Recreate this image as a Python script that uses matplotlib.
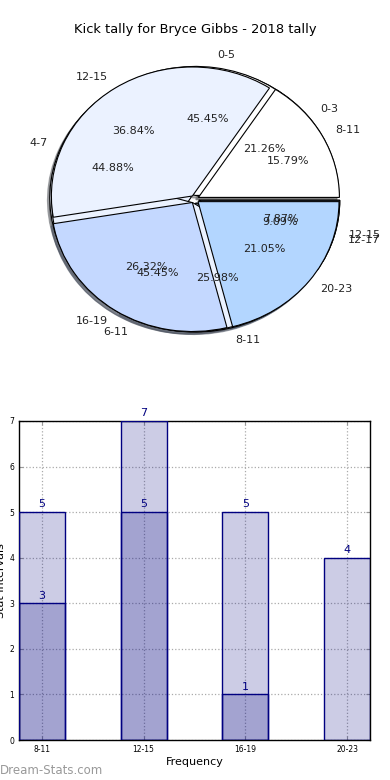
import matplotlib
matplotlib.use("Agg")
import matplotlib.pyplot as plt
import numpy as np

title = "Kick tally for Bryce Gibbs - 2018 tally"

# Pie data (three overlaid pies)
pie1_labels = ["0-3", "4-7", "8-11", "12-15"]
pie1_values = [27, 57, 33, 10]
pie3_labels = ["0-5", "6-11", "12-17"]
pie3_values = [5, 5, 1]
pie2_labels = ["8-11", "12-15", "16-19", "20-23"]
pie2_values = [3, 7, 5, 4]

pie_colors = ["#FFFFFF", "#EBF2FF", "#C4D8FF", "#B3D6FF"]

# Bar data
bar_categories = ["8-11", "12-15", "16-19", "20-23"]
bar_series_a = [5, 7, 5, 4]
bar_series_b = [3, 5, 1]

fig = plt.figure(figsize=(3.9, 7.8), dpi=100)
fig.text(0.5, 1 - 30 / 780, title, ha="center", va="center", fontsize=9.4)

# ---- Pie ----
axp = fig.add_axes([0.0473, 0.5378, 0.9038, 0.4135])

wp = dict(edgecolor="black", linewidth=0.8)
tp = dict(fontsize=8, color="#222222")
all_pcts = []
for labels, values in [(pie1_labels, pie1_values), (pie3_labels, pie3_values), (pie2_labels, pie2_values)]:
    _, _, pcts = axp.pie(values, labels=labels, colors=pie_colors[:len(values)], autopct="%1.2f%%",
                         explode=[0.03] * len(values),
                         shadow={"ox": -0.012, "oy": -0.014, "shade": 0.6}, startangle=0,
                         wedgeprops=wp, textprops=tp, frame=True)
    all_pcts.append(pcts)
# nudge two overlapping percentage texts of the top pie, as in the reference
p2 = all_pcts[2]
x0, y0 = p2[0].get_position()
p2[0].set_position((x0 + 0.11, y0))
x1, y1 = p2[1].get_position()
p2[1].set_position((x1 - 0.09, y1))

axp.set_xlim(-1.25, 1.25)
axp.set_ylim(-1.25, 1.25)
axp.set_aspect("auto")
axp.axis("off")

# ---- Bars ----
axb = fig.add_axes([19 / 390, 40 / 780, 351 / 390, 319 / 780])
x = np.arange(len(bar_categories))
w = 0.45
axb.bar(x, bar_series_a, width=w, color="navy", alpha=0.2, zorder=2)
axb.bar(x, bar_series_a, width=w, facecolor="none", edgecolor="navy", linewidth=1, zorder=3)
xb = x[:len(bar_series_b)]
axb.bar(xb, bar_series_b, width=w, color="navy", alpha=0.2, zorder=2)
axb.bar(xb, bar_series_b, width=w, facecolor="none", edgecolor="navy", linewidth=1, zorder=3)
for xi, v in zip(x, bar_series_a):
    axb.text(xi, v + 0.06, str(v), ha="center", va="bottom", color="navy", fontsize=8, zorder=4)
for xi, v in zip(xb, bar_series_b):
    axb.text(xi, v + 0.06, str(v), ha="center", va="bottom", color="navy", fontsize=8, zorder=4)

axb.set_xlim(-w / 2, len(x) - 1 + w / 2)
axb.set_ylim(0, 7)
axb.set_xticks(x)
axb.set_xticklabels(bar_categories)
axb.set_yticks(range(8))
axb.tick_params(labelsize=5.5, direction="in", top=True, right=True, color="#999999", length=3)
axb.grid(True, linestyle=":", color="#aaaaaa", linewidth=0.9, zorder=0)
axb.set_axisbelow(True)
axb.set_xlabel("Frequency", fontsize=8, labelpad=2)
axb.set_ylabel("Stat Intervals", fontsize=8, labelpad=2)
for s in axb.spines.values():
    s.set_linewidth(1)

fig.text(0.0, 1 - 770 / 780, "Dream-Stats.com", fontsize=8.5, color="#999999",
         ha="left", va="center")

fig.savefig("out.png", dpi=100)
